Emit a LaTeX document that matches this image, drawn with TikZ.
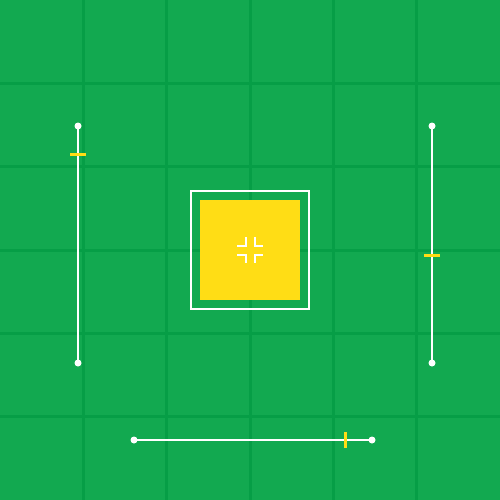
\documentclass[tikz,border=0pt]{standalone}
\definecolor{bg}{RGB}{18,169,80}
\definecolor{gridc}{RGB}{6,158,70}
\definecolor{ylw}{RGB}{255,221,21}
\begin{document}
\begin{tikzpicture}[x=1pt,y=-1pt,
  gridline/.style={draw=gridc,line width=3},
  track/.style={draw=white,line width=2},
  knob/.style={circle,fill=white,inner sep=0pt,minimum size=7},
  thumb/.style={draw=ylw,line width=3},
  cropmark/.style={draw=white,line width=2,line cap=rect}]
\fill[bg] (0,0) rectangle (500,500);
\useasboundingbox (0,0) rectangle (500,500);
\foreach \i in {1,...,5}{
  \draw[gridline] ({\i*500/6},0) -- ({\i*500/6},500);
  \draw[gridline] (0,{\i*500/6}) -- (500,{\i*500/6});
}
% center square
\node[draw=white,line width=2,minimum size=118,inner sep=0pt] (frame) at (250,250) {};
\node[fill=ylw,minimum size=100,inner sep=0pt] (target) at (250,250) {};
\draw[cropmark] (245.5,238) -- (245.5,245.5) -- (238,245.5);
\draw[cropmark] (254.5,238) -- (254.5,245.5) -- (262,245.5);
\draw[cropmark] (245.5,262) -- (245.5,254.5) -- (238,254.5);
\draw[cropmark] (254.5,262) -- (254.5,254.5) -- (262,254.5);
% left slider
\node[knob] (l1) at (78,126) {};
\node[knob] (l2) at (78,363) {};
\draw[track] (l1.center) -- (l2.center);
\coordinate (lt) at (78,154);
\draw[thumb] ([xshift=-8]lt) -- ([xshift=8]lt);
% right slider
\node[knob] (r1) at (432,126) {};
\node[knob] (r2) at (432,363) {};
\draw[track] (r1.center) -- (r2.center);
\coordinate (rt) at (432,255);
\draw[thumb] ([xshift=-8]rt) -- ([xshift=8]rt);
% bottom slider
\node[knob] (b1) at (134,440) {};
\node[knob] (b2) at (372,440) {};
\draw[track] (b1.center) -- (b2.center);
\coordinate (bt) at (345,440);
\draw[thumb] ([yshift=-8]bt) -- ([yshift=8]bt);
\end{tikzpicture}
\end{document}
